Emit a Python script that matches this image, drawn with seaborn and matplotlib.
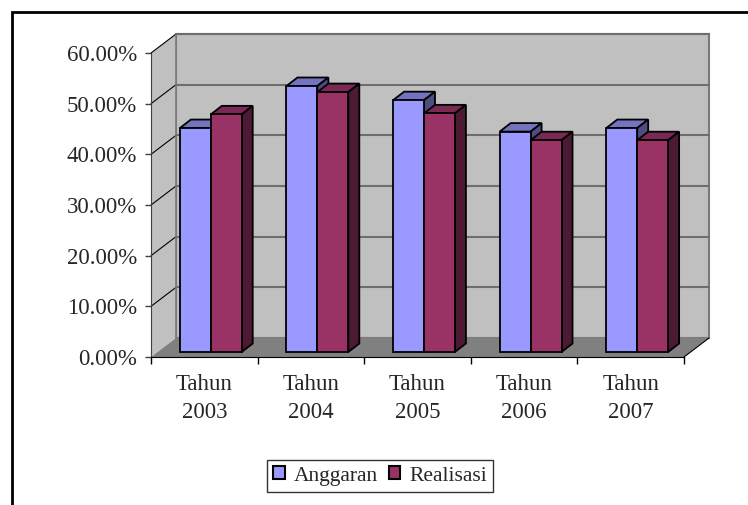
import numpy as np
import pandas as pd
import seaborn as sns
import matplotlib.pyplot as plt
from matplotlib.patches import Polygon, Rectangle, Patch

# Data
tahun = ["Tahun\n2003", "Tahun\n2004", "Tahun\n2005", "Tahun\n2006", "Tahun\n2007"]
anggaran = [44.2, 52.5, 49.7, 43.5, 44.2]
realisasi = [46.9, 51.3, 47.1, 41.8, 41.8]
seri = ["Anggaran", "Realisasi"]
y_ticks = [0, 10, 20, 30, 40, 50, 60]

warna = {"Anggaran": "#9999FF", "Realisasi": "#993366"}
warna_atas = {"Anggaran": "#7373BF", "Realisasi": "#7A2952"}
warna_sisi = {"Anggaran": "#4D4D80", "Realisasi": "#4D1A33"}

df = pd.DataFrame({
    "tahun": tahun * 2,
    "nilai": anggaran + realisasi,
    "seri": ["Anggaran"] * len(tahun) + ["Realisasi"] * len(tahun),
})

sns.set_style("white")
plt.rcParams["font.family"] = ["Liberation Serif", "DejaVu Serif"]

fig = plt.figure(figsize=(7.48, 5.05), dpi=100)
W, H = 533, 304  # ukuran axes dalam piksel
ax = fig.add_axes([151 / 748, 148 / 505, W / 748, H / 505])
ax.set_facecolor("none")

sns.barplot(data=df, x="tahun", y="nilai", hue="seri", hue_order=seri,
            palette=warna, saturation=1, width=0.58, errorbar=None,
            edgecolor="black", linewidth=1.3, legend=False, ax=ax)
ax.set_xlim(-0.5, 4.5)
ax.set_ylim(0, 60)

ux, uy = 5 / W, 60 / H


def geser(dx_px, dy_px):
    # offset piksel -> satuan data
    return dx_px * ux, dy_px * uy


dx, dy = geser(25, 19)     # kedalaman dinding
bx, by = geser(6.5, 5)     # posisi muka batang
kx, ky = geser(11, 8.5)    # kedalaman batang
x0, x1 = -0.5, 4.5

# dinding & lantai 3D
ax.add_patch(Polygon([(x0 + dx, dy), (x1 + dx, dy), (x1 + dx, 60 + dy), (x0 + dx, 60 + dy)],
                     fc="#C0C0C0", ec="#7A7A7A", lw=1.5, zorder=0, clip_on=False))
ax.add_patch(Polygon([(x0, 0), (x0 + dx, dy), (x0 + dx, 60 + dy), (x0, 60)],
                     fc="#C0C0C0", ec="none", zorder=0.2, clip_on=False))
ax.add_patch(Polygon([(x0, 0), (x1, 0), (x1 + dx, dy), (x0 + dx, dy)],
                     fc="#808080", ec="none", zorder=0.5, clip_on=False))
for v in y_ticks[1:]:
    ax.plot([x0 + dx, x1 + dx], [v + dy, v + dy], color="#6E6E6E", lw=1.5,
            zorder=0.6, clip_on=False)
    ax.plot([x0, x0 + dx], [v, v + dy], color="black", lw=0.8, zorder=0.6, clip_on=False)
ax.plot([x0 + dx, x0 + dx], [dy, 60 + dy], color="#7A7A7A", lw=1.2, zorder=0.6, clip_on=False)
ax.plot([x1, x1 + dx], [0, dy], color="black", lw=0.8, zorder=0.7, clip_on=False)

# batang 3D
for i, (nama, cont) in enumerate(zip(seri, ax.containers)):
    for rect in cont:
        x = rect.get_x() + bx
        w = rect.get_width()
        h = rect.get_height()
        rect.set_x(x)
        rect.set_y(by)
        rect.set_zorder(3.1 + i * 0.2)
        top = by + h
        ax.add_patch(Polygon([(x, top), (x + w, top), (x + w + kx, top + ky), (x + kx, top + ky)],
                             fc=warna_atas[nama], ec="black", lw=1.3, zorder=3 + i * 0.2))
        ax.add_patch(Polygon([(x + w, by), (x + w + kx, by + ky), (x + w + kx, top + ky), (x + w, top)],
                             fc=warna_sisi[nama], ec="black", lw=1.3, zorder=3 + i * 0.2))

# sumbu
for s in ["top", "right"]:
    ax.spines[s].set_visible(False)
ax.spines["left"].set_color("#404040")
ax.spines["bottom"].set_color("black")
ax.spines["left"].set_zorder(1)
ax.spines["bottom"].set_zorder(1)

ax.set_yticks(y_ticks, labels=[f"{v:.2f}%" for v in y_ticks])
ax.set_xticks(np.arange(-0.5, 4.6, 1), labels=[""] * 6)
ax.set_xticks(range(len(tahun)), labels=tahun, minor=True)
ax.tick_params(axis="y", left=True, direction="out", length=4, width=1,
               color="#404040", pad=6, labelsize=16.5)
ax.tick_params(axis="x", which="major", bottom=True, direction="out", length=5,
               width=1, color="black")
ax.tick_params(axis="x", which="minor", bottom=True, length=0, pad=12, labelsize=16.5)
for lbl in ax.get_xticklabels(minor=True):
    lbl.set_linespacing(1.45)
ax.set_xlabel("")
ax.set_ylabel("")

# bingkai grafik
fig.add_artist(Rectangle((12 / 748, -0.2), 1.0, (505 - 12) / 505 + 0.2,
                         transform=fig.transFigure, fill=False, ec="black", lw=2))

handles = [Patch(fc=warna[s], ec="black", lw=1.5, label=s) for s in seri]
leg = fig.legend(handles=handles, loc="center", bbox_to_anchor=(380 / 748, 29 / 505),
                 ncol=2, frameon=True, fancybox=False, edgecolor="black", fontsize=15.5,
                 handlelength=0.55, handleheight=0.55, handletextpad=0.4,
                 columnspacing=0.5, borderpad=0.3)
leg.get_frame().set_linewidth(1)

fig.savefig("out.png", dpi=100)
